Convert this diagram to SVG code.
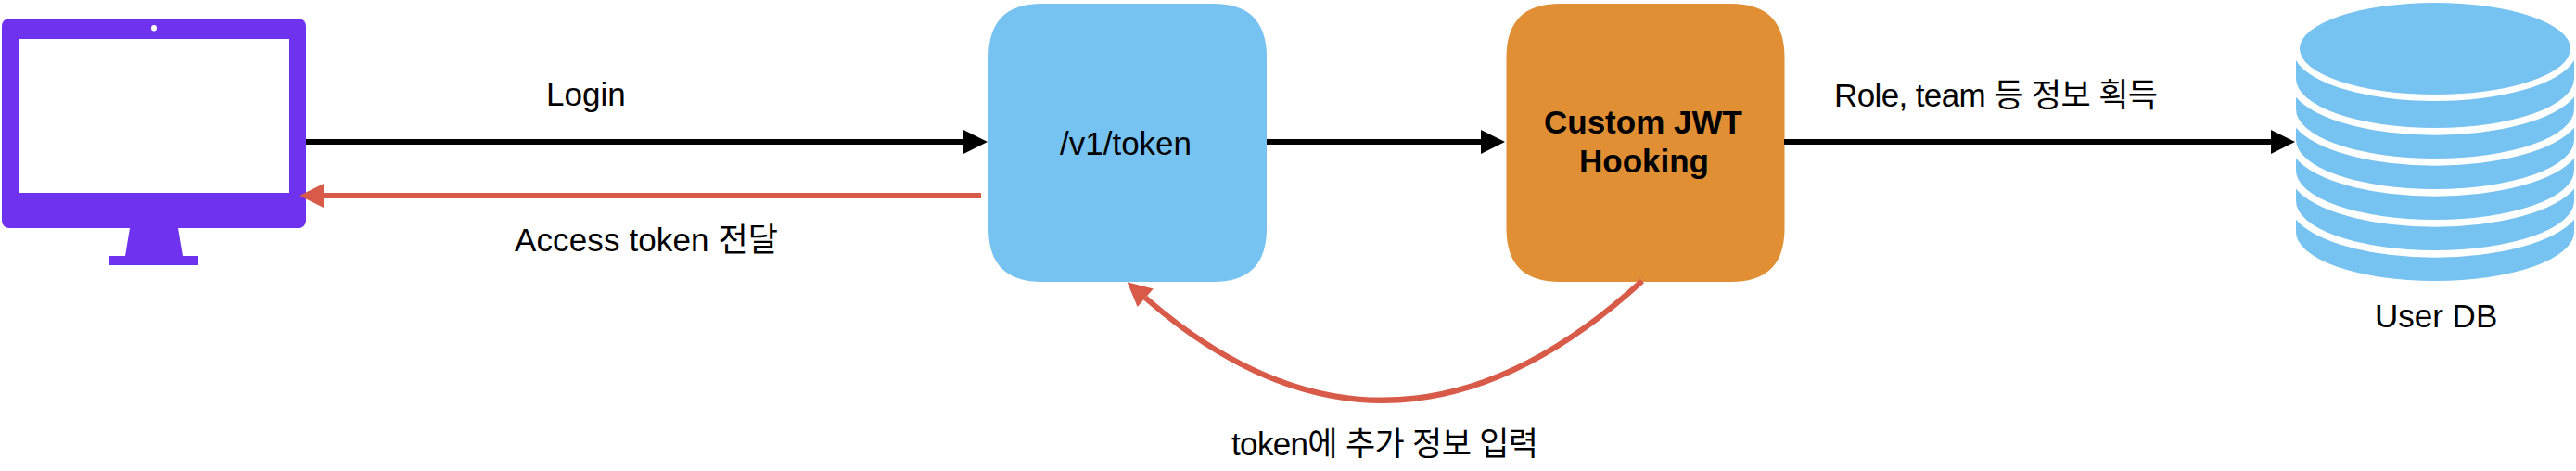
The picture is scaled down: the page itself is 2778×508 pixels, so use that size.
<svg xmlns="http://www.w3.org/2000/svg" width="2778" height="508" viewBox="0 0 2778 508">
<style>
text{font-family:"Liberation Sans","Noto Sans CJK KR",sans-serif;font-size:35px;fill:#000}
.b{font-weight:700}
.blue{fill:#76C2F1}
.orange{fill:#E08F34}
.purple{fill:#6F32EE}
.k{fill:none;stroke:#000;stroke-width:6}
.r{fill:none;stroke:#D85A48;stroke-width:6}
</style>
<defs>
<marker id="hk" markerUnits="userSpaceOnUse" markerWidth="28" markerHeight="28" refX="1" refY="14" orient="auto"><path d="M1 1L27 14L1 27Z" fill="#000"/></marker>
<marker id="hr" markerUnits="userSpaceOnUse" markerWidth="28" markerHeight="28" refX="1" refY="14" orient="auto"><path d="M1 1L27 14L1 27Z" fill="#D85A48"/></marker>
</defs>
<rect width="2778" height="508" fill="#fff"/>
<g id="monitor">
<path class="purple" d="M135 276L140 246H192L197 276H214V286H118V276Z"/>
<rect class="purple" x="2" y="20" width="328" height="226" rx="8"/>
<rect x="20" y="42" width="292" height="166" fill="#fff"/>
<ellipse cx="166" cy="30.3" rx="3" ry="3.3" fill="#fff"/>
</g>
<g id="token">
<path class="blue" d="M1124 4H1308C1348 4 1366 24 1366 62V246C1366 284 1348 304 1308 304H1124C1084 304 1066 284 1066 246V62C1066 24 1084 4 1124 4Z"/>
<text x="1143" y="167">/v1/token</text>
</g>
<g id="hook">
<path class="orange" d="M1682.500 4H1866.500C1906.500 4 1924.500 24 1924.500 62V246C1924.500 284 1906.500 304 1866.500 304H1682.500C1642.500 304 1624.500 284 1624.500 246V62C1624.500 24 1642.500 4 1682.500 4Z"/>
<text class="b" x="1665" y="144">Custom JWT</text>
<text class="b" x="1703" y="186">Hooking</text>
</g>
<g id="db">
<ellipse class="blue" cx="2626" cy="52.5" rx="146" ry="49.5"/>
<path class="blue" d="M2476 65A153 54.8 0 0 0 2776 65V85A150 53 0 0 1 2476 85Z"/>
<path class="blue" d="M2476 104.7A157 58.2 0 0 0 2776 104.7V118A150 53 0 0 1 2476 118Z"/>
<path class="blue" d="M2476 137.7A157 58.2 0 0 0 2776 137.7V151A150 53 0 0 1 2476 151Z"/>
<path class="blue" d="M2476 170.7A157 58.2 0 0 0 2776 170.7V184A150 53 0 0 1 2476 184Z"/>
<path class="blue" d="M2476 203.7A157 58.2 0 0 0 2776 203.7V217A150 53 0 0 1 2476 217Z"/>
<path class="blue" d="M2476 236.7A157 58.2 0 0 0 2776 236.7V250A150 53 0 0 1 2476 250Z"/>
<text x="2561" y="353">User DB</text>
</g>
<g id="connectors">
<path class="k" d="M330 153H1039" marker-end="url(#hk)"/>
<path class="r" d="M1058 211H349" marker-end="url(#hr)"/>
<path class="k" d="M1366 153H1597" marker-end="url(#hk)"/>
<path class="k" d="M1924 153H2449" marker-end="url(#hk)"/>
<path class="r" d="M1771 303Q1499.800 551 1235.200 321.300" marker-end="url(#hr)"/>
</g>
<g id="labels">
<text x="589" y="114">Login</text>
<text x="555" y="271" textLength="284">Access token 전달</text>
<text x="1978" y="115" textLength="349">Role, team 등 정보 획득</text>
<text x="1328" y="491" textLength="331">token에 추가 정보 입력</text>
</g>
</svg>
